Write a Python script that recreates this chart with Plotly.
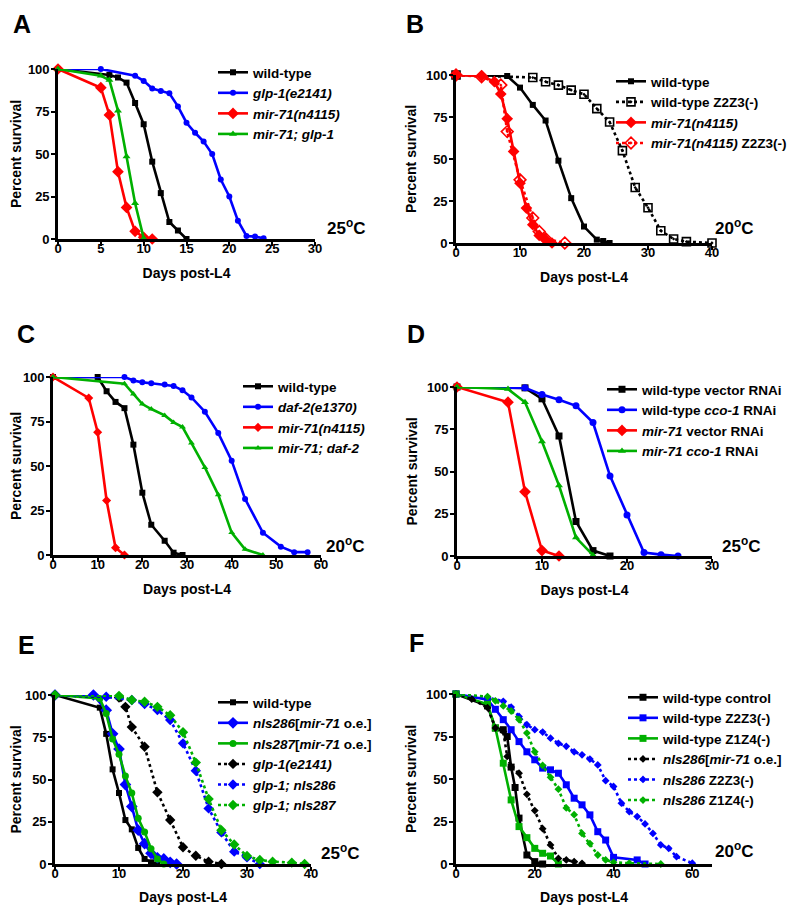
import plotly.graph_objects as go

# page is 800x913; the browser body has an 8px margin, so the figure is 784x897
OFF = 8
FW, FH = 800 - 2 * OFF, 913 - 2 * OFF
BLACK, BLUE, RED, GREEN = "#000000", "#0000ff", "#ff0000", "#00b000"
FONT = "Liberation Sans, Arial, sans-serif"

# ---------------- Panel A (25°C) ----------------
a_wt_x = [0, 6, 7, 8, 9, 10, 11, 12, 13, 14, 15]
a_wt_y = [100, 96.5, 95, 92, 80, 67.5, 45.5, 27, 10, 5, 0]
a_glp_x = [0, 5, 9, 10, 11, 12, 13, 14, 15, 16, 17, 18, 19, 20, 21, 22, 23, 24]
a_glp_y = [100, 100, 96, 93, 88.5, 87, 85.7, 78, 68.4, 62.5, 57.3, 50, 35, 25, 10.8, 1.8, 1.4, 0.4]
a_mir_x = [0, 5, 6, 7, 8, 9, 10, 11]
a_mir_y = [100, 89, 73, 39.6, 18.6, 4.5, 1, 0]
a_dbl_x = [0, 5, 6, 7, 8, 9, 10]
a_dbl_y = [100, 96, 93.5, 75.5, 48.5, 21, 0.5]

# ---------------- Panel B (20°C) ----------------
b_wt_x = [0, 8, 10, 12, 14, 16, 18, 20, 22, 23, 24]
b_wt_y = [100, 99.4, 92.5, 82.2, 72.9, 49, 26.7, 9.8, 2, 1.2, 0]
b_wtz_x = [0, 12, 14, 16, 18, 20, 22, 24, 26, 28, 30, 32, 34, 36, 40]
b_wtz_y = [100, 98.5, 96, 94, 91, 88.5, 80, 72, 55, 33, 21, 7.3, 2.4, 0.8, 0]
b_mir_x = [0, 4, 6, 7, 8, 9, 10, 11, 12, 13, 14, 15]
b_mir_y = [100, 99.5, 96, 88.7, 74, 54.5, 35.6, 20.8, 10.9, 4.5, 2, 0]
b_mirz_x = [0, 4, 7, 8, 10, 12, 13, 14, 17]
b_mirz_y = [100, 99, 94, 66.3, 37.6, 14.9, 6.9, 2.5, 0]

# ---------------- Panel C (20°C) ----------------
c_wt_x = [0, 10, 12, 14, 16, 18, 20, 22, 25, 27, 29]
c_wt_y = [100, 100, 92, 86, 82.5, 62, 35, 17, 8, 1.3, 0]
c_daf_x = [0, 16, 18, 20, 22, 25, 27, 29, 31, 34, 37, 40, 43, 47, 51, 54, 57]
c_daf_y = [100, 100, 98, 97, 96.5, 95.8, 95, 92.5, 88.5, 80.5, 68.5, 53, 31.5, 12.5, 4.7, 1.6, 1.6]
c_mir_x = [0, 8, 10, 12, 14, 16]
c_mir_y = [100, 88.2, 69, 30.6, 4.1, 0]
c_dbl_x = [0, 16, 18, 20, 22, 25, 27, 29, 31, 34, 37, 40, 43, 47]
c_dbl_y = [100, 96.2, 90.5, 84.8, 82, 78.4, 74.5, 71.9, 62.9, 49.2, 33.8, 12.6, 3.2, 0]

# ---------------- Panel D (25°C) ----------------
d_wt_x = [0, 8, 10, 12, 14, 16, 18]
d_wt_y = [100, 99.5, 93, 71, 20.4, 3.2, 0]
d_cco_x = [0, 8, 10, 12, 14, 16, 18, 20, 22, 24, 26]
d_cco_y = [100, 99.5, 95.5, 92.5, 88.9, 79, 47.4, 24.3, 2, 0.8, 0]
d_mir_x = [0, 6, 8, 10, 12]
d_mir_y = [100, 91, 38, 3.2, 0]
d_mcco_x = [0, 6, 8, 10, 12, 14, 16]
d_mcco_y = [100, 98.8, 91, 67.8, 41.7, 10.9, 0.5]

# ---------------- Panel E (25°C) ----------------
e_wt_x = [0, 7, 8, 9, 10, 11, 12, 13, 14, 15, 16]
e_wt_y = [100, 92.5, 77, 56, 42, 26, 20.5, 9.5, 3, 1, 0]
e_286_x = [0, 6, 8, 9, 10, 11, 12, 13, 14, 15, 16, 17, 18, 19]
e_286_y = [100, 100, 91, 77, 68, 47, 34, 20, 12, 6.3, 3.7, 3, 1, 0]
e_287_x = [0, 7, 8, 9, 10, 11, 12, 13, 14, 15, 16, 17]
e_287_y = [100, 98, 89, 74, 65, 52, 42, 27, 19, 9, 3, 0]
e_glp_x = [0, 10, 11, 12, 14, 16, 18, 20, 22, 24, 26]
e_glp_y = [100, 98.5, 93, 81, 69.4, 42.4, 26, 9.9, 4.9, 1.4, 0]
e_g286_x = [0, 8, 12, 14, 16, 18, 20, 22, 24, 26, 28, 30, 32]
e_g286_y = [100, 99, 97, 94.7, 91.1, 85.2, 71.4, 55.2, 32.9, 18.7, 7.3, 3.9, 0]
e_g287_x = [0, 10, 12, 14, 16, 18, 20, 22, 24, 26, 28, 30, 32, 34, 37, 39]
e_g287_y = [100, 99.5, 97, 96, 93, 88, 78, 60, 38.5, 20, 11.5, 4.7, 2.4, 1.4, 0.8, 0]

# ---------------- Panel F (20°C) ----------------
f_wt_x = [0, 8, 10, 12, 13, 14, 15, 16, 18, 20, 22]
f_wt_y = [100, 93, 80, 79, 75, 57, 45, 27, 5.3, 1.4, 0]
f_z23_x = [0, 8, 10, 12, 14, 16, 18, 20, 22, 24, 26, 28, 30, 32, 34, 36, 38, 40, 46, 48]
f_z23_y = [100, 96.7, 91, 84.9, 79, 72, 66, 61.3, 56.4, 55.4, 53.4, 46.6, 38.7, 34.8, 28.9, 19, 14.1, 3.9, 2.4, 0]
f_z14_x = [0, 8, 10, 12, 14, 16, 18, 20, 22, 24, 26]
f_z14_y = [100, 94, 80, 59.3, 37.7, 22, 15.5, 9.2, 6.3, 4.7, 0]
f_286_x = [0, 4, 8, 10, 12, 13, 14, 16, 18, 20, 22, 24, 26, 28, 30, 32]
f_286_y = [100, 97, 92, 80, 78, 63.3, 57, 53.4, 41, 31.4, 20.8, 11.2, 3.3, 2.4, 1.4, 0.4]
f_286z23_x = [0, 8, 12, 14, 16, 18, 20, 22, 24, 26, 28, 30, 32, 34, 36, 38, 40, 42, 44, 46, 48, 50, 52, 54, 56, 60]
f_286z23_y = [100, 98, 95.7, 92.3, 86.8, 81.9, 79, 77.6, 74, 71, 69.2, 66, 64.2, 61.7, 58.3, 49, 45.6, 35.8, 30.8, 27.9, 23.6, 18, 11.2, 9.2, 4.3, 0.5]
f_286z14_x = [0, 8, 10, 12, 14, 16, 18, 20, 22, 24, 26, 28, 30, 32, 34, 36, 38, 40, 44, 52]
f_286z14_y = [100, 98.5, 96, 93, 90, 85, 77, 66, 58, 51, 44, 33, 29, 18, 12, 5.3, 2.4, 1, 0.5, 0]

# panel layout (page pixels): letter, temp, x-domain, y-domain, xmax, xticks, legend top-left, temp label
panels = [
    ("A", "25", (58, 315), (69, 239), 30, [0, 5, 10, 15, 20, 25, 30], (213, 57), (325, 227)),
    ("B", "20", (456, 712), (75, 243), 40, [0, 10, 20, 30, 40], (None, 66), (713, 227)),
    ("C", "20", (53, 321), (377, 555), 60, [0, 10, 20, 30, 40, 50, 60], (238, 371), (324, 545)),
    ("D", "25", (457, 712), (387, 556), 30, [0, 10, 20, 30], (602, 374), (720, 545)),
    ("E", "25", (55, 311), (695, 864), 40, [0, 10, 20, 30, 40], (213, 687), (319, 852)),
    ("F", "20", (456, 712), (694, 864), 65, [0, 20, 40, 60], (623, 682), (713, 850)),
]
# letter: (x centre, y, anchor)
letter_pos = [(22, 8, "top"), (415, 8, "top"), (26, 334, "middle"), (416, 334, "middle"),
              (26, 645, "middle"), (416, 643, "middle")]


def px(x):
    return (x - OFF) / FW


def py(y):
    return 1 - (y - OFF) / FH


fig = go.Figure()


def add(panel, x, y, name, color, symbol, size, dash="solid", lw=2.6, mlw=0):
    sfx = "" if panel == 0 else str(panel + 1)
    fig.add_trace(go.Scatter(
        x=x, y=y, name=name, mode="lines+markers",
        xaxis="x" + sfx, yaxis="y" + sfx,
        legend="legend" + sfx,
        line=dict(color=color, width=lw, dash=dash),
        marker=dict(color=color, symbol=symbol, size=size,
                    line=dict(color=color, width=mlw)),
        cliponaxis=False,
    ))


# A
add(0, a_wt_x, a_wt_y, "wild-type", BLACK, "square", 6)
add(0, a_glp_x, a_glp_y, "<i>glp-1(e2141)</i>", BLUE, "circle", 6)
add(0, a_mir_x, a_mir_y, "<i>mir-71(n4115)</i>", RED, "diamond", 9)
add(0, a_dbl_x, a_dbl_y, "<i>mir-71; glp-1</i>", GREEN, "triangle-up", 7)
# B
add(1, b_wt_x, b_wt_y, "wild-type", BLACK, "square", 6)
add(1, b_wtz_x, b_wtz_y, "wild-type Z2Z3(-)", BLACK, "square-open-dot", 8, dash="dot", mlw=1.6)
add(1, b_mir_x, b_mir_y, "<i>mir-71(n4115)</i>", RED, "diamond", 9)
add(1, b_mirz_x, b_mirz_y, "<i>mir-71(n4115)</i> Z2Z3(-)", RED, "diamond-open-dot", 9, dash="dot", mlw=1.6)
# C
add(2, c_wt_x, c_wt_y, "wild-type", BLACK, "square", 6)
add(2, c_daf_x, c_daf_y, "<i>daf-2(e1370)</i>", BLUE, "circle", 6)
add(2, c_mir_x, c_mir_y, "<i>mir-71(n4115)</i>", RED, "diamond", 7)
add(2, c_dbl_x, c_dbl_y, "<i>mir-71; daf-2</i>", GREEN, "triangle-up", 6)
# D
add(3, d_wt_x, d_wt_y, "wild-type vector RNAi", BLACK, "square", 7)
add(3, d_cco_x, d_cco_y, "wild-type <i>cco-1</i> RNAi", BLUE, "circle", 7)
add(3, d_mir_x, d_mir_y, "<i>mir-71</i> vector RNAi", RED, "diamond", 9)
add(3, d_mcco_x, d_mcco_y, "<i>mir-71 cco-1</i> RNAi", GREEN, "triangle-up", 7)
# E
add(4, e_wt_x, e_wt_y, "wild-type", BLACK, "square", 6)
add(4, e_286_x, e_286_y, "<i>nIs286</i>[<i>mir-71</i> o.e.]", BLUE, "diamond", 9)
add(4, e_287_x, e_287_y, "<i>nIs287</i>[<i>mir-71</i> o.e.]", GREEN, "circle", 7)
add(4, e_glp_x, e_glp_y, "<i>glp-1(e2141)</i>", BLACK, "diamond", 8, dash="dot")
add(4, e_g286_x, e_g286_y, "<i>glp-1; nIs286</i>", BLUE, "diamond", 8, dash="dot")
add(4, e_g287_x, e_g287_y, "<i>glp-1; nIs287</i>", GREEN, "diamond", 8, dash="dot")
# F
add(5, f_wt_x, f_wt_y, "wild-type control", BLACK, "square", 7)
add(5, f_z23_x, f_z23_y, "wild-type Z2Z3(-)", BLUE, "square", 7)
add(5, f_z14_x, f_z14_y, "wild-type Z1Z4(-)", GREEN, "square", 7)
add(5, f_286_x, f_286_y, "<i>nIs286</i>[<i>mir-71</i> o.e.]", BLACK, "diamond", 6, dash="dot")
add(5, f_286z23_x, f_286z23_y, "<i>nIs286</i> Z2Z3(-)", BLUE, "diamond", 6, dash="dot")
add(5, f_286z14_x, f_286z14_y, "<i>nIs286</i> Z1Z4(-)", GREEN, "diamond", 6, dash="dot")

layout = dict(
    width=FW, height=FH, margin=dict(l=0, r=0, t=0, b=0, autoexpand=False),
    paper_bgcolor="white", plot_bgcolor="white",
    font=dict(family=FONT, size=13, color="black", weight="bold"),
    annotations=[],
)
for i, (letter, temp, xd, yd, xmax, xt, lg, tp) in enumerate(panels):
    sfx = "" if i == 0 else str(i + 1)
    axcommon = dict(showline=True, linewidth=2.6, linecolor="black", ticks="outside",
                    ticklen=4, tickwidth=2, tickcolor="black", showgrid=False, zeroline=False,
                    automargin=False,
                    tickfont=dict(family=FONT, size=13, color="black", weight="bold"))
    layout["xaxis" + sfx] = dict(axcommon, domain=[px(xd[0]), px(xd[1])], range=[0, xmax],
                                 tickvals=xt, anchor="y" + sfx, ticklabelstandoff=-8,
                                 title=dict(text="Days post-L4", standoff=13,
                                            font=dict(family=FONT, size=14, weight="bold")))
    layout["yaxis" + sfx] = dict(axcommon, domain=[py(yd[1]), py(yd[0])], range=[0, 100],
                                 tickvals=[0, 25, 50, 75, 100], anchor="x" + sfx,
                                 ticklabelstandoff=-1,
                                 title=dict(text="Percent survival", standoff=6,
                                            font=dict(family=FONT, size=14, weight="bold")))
    if lg[0] is None:
        lx, xanc = 1.0, "right"
    else:
        lx, xanc = px(lg[0]), "left"
    layout["legend" + sfx] = dict(x=lx, y=py(lg[1]), xanchor=xanc, yanchor="top",
                                  bgcolor="rgba(0,0,0,0)", itemwidth=30, tracegroupgap=0,
                                  font=dict(family=FONT, size=13.5, color="black", weight="bold"))
    layout["annotations"].append(dict(text=temp + "<sup>o</sup>C", x=px(tp[0]), y=py(tp[1]),
                                      xref="paper", yref="paper", xanchor="left", yanchor="middle",
                                      showarrow=False,
                                      font=dict(family=FONT, size=17, color="black", weight="bold")))
    lp = letter_pos[i]
    layout["annotations"].append(dict(text=letter, x=px(lp[0]), y=py(lp[1]),
                                      xref="paper", yref="paper", xanchor="center", yanchor=lp[2],
                                      showarrow=False,
                                      font=dict(family=FONT, size=25, color="black", weight="bold")))

fig.update_layout(**layout)
fig.write_html("out.html")
